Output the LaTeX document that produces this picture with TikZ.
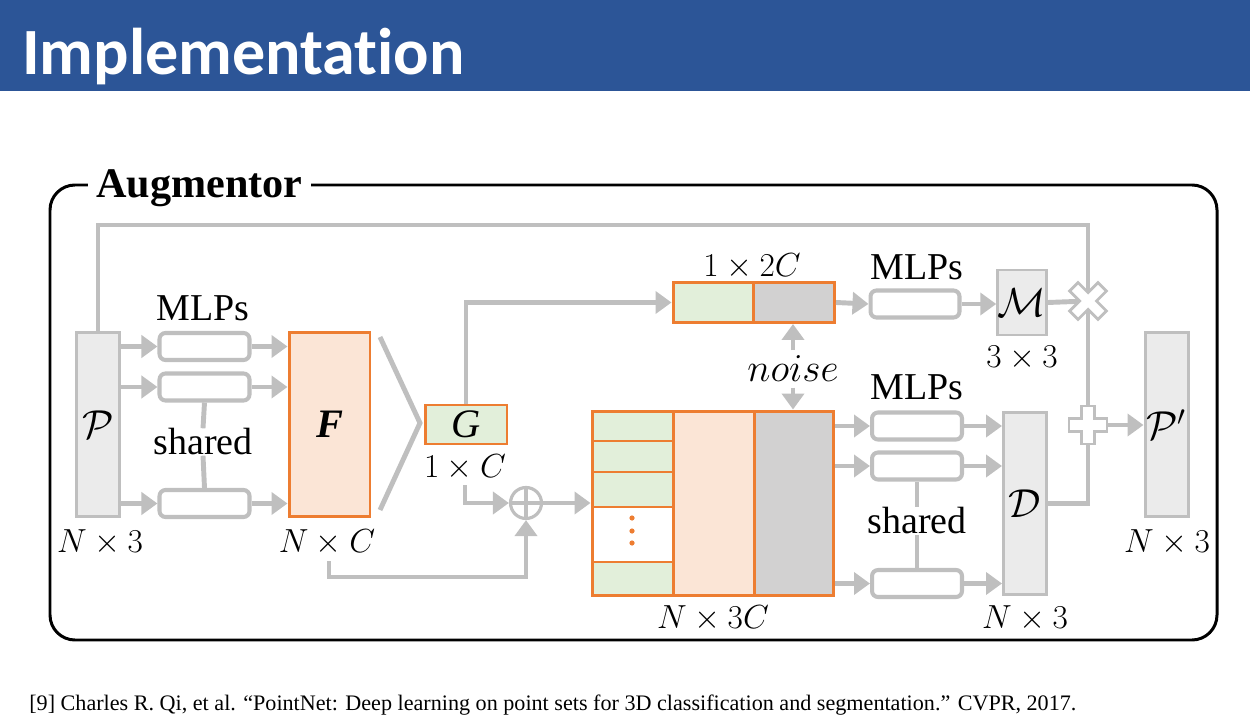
\RequirePackage{fix-cm}
\documentclass[tikz,border=0pt]{standalone}
\usepackage[no-math]{fontspec}
\setmainfont{Liberation Serif}
\newfontfamily\headfont{Carlito}[Ligatures=NoCommon]
\usetikzlibrary{arrows.meta}

\definecolor{hblue}{RGB}{44,85,151}
\definecolor{lgray}{RGB}{191,191,191}
\definecolor{boxgray}{RGB}{235,235,235}
\definecolor{dgray}{RGB}{210,209,209}
\definecolor{aorange}{RGB}{237,125,49}
\definecolor{lorange}{RGB}{251,229,214}
\definecolor{lgreen}{RGB}{226,239,218}

\newcommand\setfs[1]{\fontsize{#1}{#1}\selectfont}

\begin{document}
\begin{tikzpicture}[x=0.02cm,y=-0.02cm,
  gline/.style={draw=lgray,line width=2.8pt},
  garrow/.style={gline,-{Triangle[length=0.32cm,width=0.44cm]}},
  tensor/.style={draw=lgray,line width=1.7pt,fill=boxgray,inner sep=0pt,
    minimum width=0.86cm,minimum height=3.70cm,font=\setfs{23pt}},
  feat/.style={draw=aorange,line width=1.7pt,inner sep=0pt,font=\setfs{23pt}},
  mlpbox/.style={draw=lgray,line width=2.3pt,fill=white,rounded corners=0.12cm,
    inner sep=0pt,minimum width=1.80cm,minimum height=0.54cm},
  dimlab/.style={font=\setfs{19pt},inner sep=1pt},
  wordlab/.style={font=\setfs{21.6pt}},
  crossmark/.style={draw=lgray,line width=1.6pt,fill=white,line join=miter}]

\useasboundingbox (0,0) rectangle (1250,719);

% header bar
\fill[hblue] (0,0) rectangle (1250,91);
\node[anchor=base west,inner sep=0pt,text=white,font=\headfont\bfseries\setfs{37.6pt}]
  (title) at (22,75) {Implementation};

% module frame
\draw[line width=1.7pt,rounded corners=0.5cm] (50,185) rectangle (1217,640);
\node[anchor=base,fill=white,inner xsep=0.16cm,inner ysep=2pt,font=\bfseries\setfs{24pt}]
  (aug) at (199.5,198) {Augmentor};

% input point cloud and shared MLPs
\node[tensor] (P) at (98,424.5) {$\mathcal{P}$};
\node[dimlab] (Pdim) at (100,542) {$N\times 3$};
\node[mlpbox] (m1) at (204.5,346.5) {};
\node[mlpbox] (m2) at (204.5,387) {};
\node[mlpbox] (m3) at (204.5,503.5) {};
\node[wordlab] (mlpsA) at (203,308) {MLPs};
\node[wordlab,inner sep=0pt] (shA) at (203,442) {shared};

% point-wise features
\node[feat,fill=lorange,minimum width=1.62cm,minimum height=3.70cm] (F) at (329.5,424.5) {\textbf{\textit{F}}};
\node[dimlab] (Fdim) at (327,542) {$N\times C$};
\coordinate (pool) at (420,423);
\coordinate (fb) at (329,561);

% global feature
\node[feat,fill=lgreen,minimum width=1.64cm,minimum height=0.78cm] (G) at (466,424.5) {\textit{G}};
\node[dimlab] (Gdim) at (465,467) {$1\times C$};
\coordinate (gfoot) at (465,485);

% concatenation
\node[circle,draw=lgray,line width=1.8pt,minimum size=0.62cm,inner sep=0pt] (sum) at (526,503) {};

% global feature with noise
\node[feat,fill=lgreen,minimum width=1.60cm,minimum height=0.80cm] (ga) at (713,302.5) {};
\node[feat,fill=dgray,minimum width=1.62cm,minimum height=0.80cm] (gb) at (794,302.5) {};
\node[dimlab] (gdim2) at (752,266) {$1\times 2C$};
\node[font=\setfs{22.5pt},inner sep=3pt] (noise) at (793,369) {$noise$};

% point-wise features with noise
\fill[lgreen] (592,411) rectangle (673,596);
\fill[white] (592,507) rectangle (673,562);
\fill[lorange] (673,411) rectangle (754,596);
\fill[dgray] (754,411) rectangle (834,596);
\draw[aorange,line width=1.7pt] (592,441) -- (673,441) (592,472) -- (673,472)
  (592,507) -- (673,507) (592,562) -- (673,562)
  (673,411) -- (673,596) (754,411) -- (754,596);
\foreach \yy in {518,531,543} \fill[aorange] (632,\yy) circle (2.6);
\node[feat,minimum width=4.84cm,minimum height=3.70cm] (big) at (713,503.5) {};
\node[dimlab] (bigdim) at (713,618) {$N\times 3C$};

% upper branch: transformation matrix
\node[mlpbox,minimum width=1.78cm] (mM) at (915,304) {};
\node[wordlab] (mlpsB) at (917,267) {MLPs};
\node[tensor,minimum height=1.30cm] (M) at (1022,302.5) {$\mathcal{M}$};
\node[dimlab] (Mdim) at (1022,358) {$3\times 3$};

% lower branch: displacement
\node[mlpbox] (d1) at (917,426) {};
\node[mlpbox] (d2) at (917,466) {};
\node[mlpbox] (d3) at (917,583.5) {};
\node[wordlab] (mlpsC) at (917,387) {MLPs};
\node[wordlab,inner sep=0pt] (shC) at (917,521) {shared};
\node[tensor,minimum height=3.66cm] (D) at (1025,503.5) {$\mathcal{D}$};
\node[dimlab] (Ddim) at (1025,618) {$N\times 3$};

% output point cloud
\node[tensor] (Pp) at (1166.5,424.5) {$\mathcal{P}'$};
\node[dimlab] (Ppdim) at (1167,542) {$N\times 3$};

\coordinate (mulc) at (1088,301);
\coordinate (addc) at (1088,425);
\coordinate (topR) at (1088,225);

% connectors
\draw[gline] (P.north) |- (topR) -- (addc);
\foreach \m in {m1,m2,m3}{
  \draw[garrow] (P.east |- \m) -- (\m.west);
  \draw[garrow] (\m.east) -- (F.west |- \m);
}
\draw[gline] (m2.south) -- (shA.north);
\draw[gline] (shA.south) -- (m3.north);
\draw[gline,line join=miter] (380,337) -- (pool) -- (380,510);
\draw[garrow] (G.north) |- (ga.west);
\draw[garrow] (gfoot) |- (sum.west);
\draw[garrow] (fb) -- (329,577) -| (sum.south);
\draw[lgray,line width=1.8pt] (sum.north) -- (sum.south) (sum.west) -- (sum.east);
\draw[garrow] (sum.east) -- (big.west |- sum);
\draw[garrow] (noise.north) -- (noise.north |- gb.south);
\draw[garrow] (noise.south) -- (noise.south |- big.north);
\draw[garrow] (gb.east) -- (mM.west);
\draw[garrow] (mM.east) -- (M.west |- mM);
\draw[gline] (M.east) -- (mulc);
\foreach \m in {d1,d2,d3}{
  \draw[garrow] (big.east |- \m) -- (\m.west);
  \draw[garrow] (\m.east) -- (D.west |- \m);
}
\draw[gline] (d2.south) -- (shC.north);
\draw[gline] (shC.south) -- (d3.north);
\draw[gline] (D.east) -| (addc);
\draw[garrow] (addc) -- (Pp.west |- addc);

% multiplication and addition marks
\path[crossmark,shift={(mulc)},rotate=45]
  (6,20) -- (6,6) -- (20,6) -- (20,-6) -- (6,-6) -- (6,-20) -- (-6,-20)
  -- (-6,-6) -- (-20,-6) -- (-20,6) -- (-6,6) -- (-6,20) -- cycle;
\path[crossmark,shift={(addc)}]
  (6.5,19) -- (6.5,6.5) -- (19,6.5) -- (19,-6.5) -- (6.5,-6.5) -- (6.5,-19) -- (-6.5,-19)
  -- (-6.5,-6.5) -- (-19,-6.5) -- (-19,6.5) -- (-6.5,6.5) -- (-6.5,19) -- cycle;

% reference
\node[anchor=base west,inner sep=0pt,font=\setfs{12.6pt}] (ref) at (29,710)
  {[9] Charles R. Qi, et al. “PointNet: Deep learning on point sets for 3D classification and segmentation.” CVPR, 2017.};
\end{tikzpicture}
\end{document}
